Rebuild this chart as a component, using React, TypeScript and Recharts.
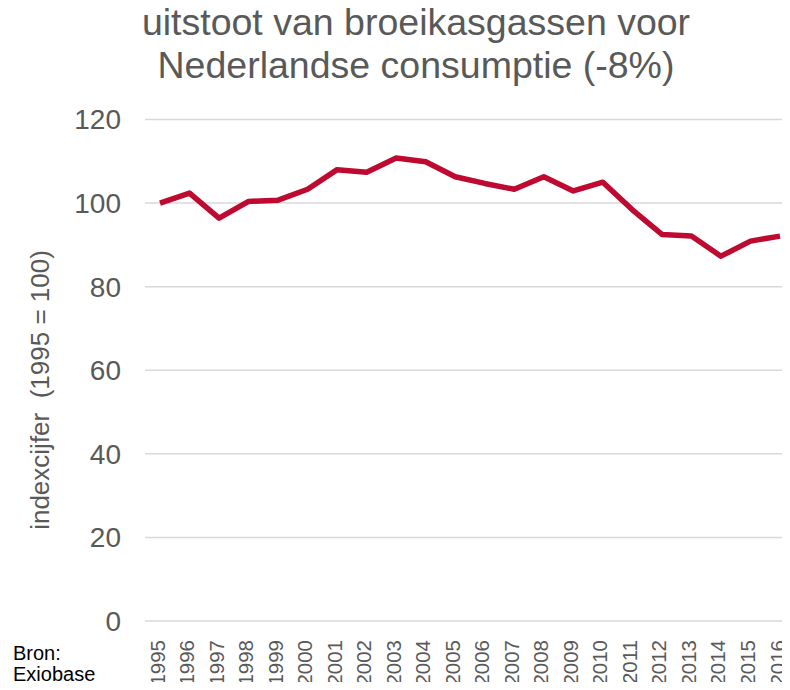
import React from "react";
import { LineChart, Line, XAxis, YAxis, CartesianGrid } from "recharts";

const years = ["1995","1996","1997","1998","1999","2000","2001","2002","2003","2004","2005","2006","2007","2008","2009","2010","2011","2012","2013","2014","2015","2016"];
const indexValues = [100, 102.4, 96.4, 100.4, 100.7, 103.3, 108.0, 107.4, 110.8, 109.9, 106.3, 104.7, 103.3, 106.3, 102.9, 105.0, 98.4, 92.5, 92.1, 87.3, 90.9, 92.1];
const yTicks = [0, 20, 40, 60, 80, 100, 120];
const titleLines = ["uitstoot van broeikasgassen voor", "Nederlandse consumptie (-8%)"];
const yLabel = "indexcijfer  (1995 = 100)";
const sourceLines = ["Bron:", "Exiobase"];

const data = years.map((y, i) => ({ year: y, value: indexValues[i] }));

const FONT = "'Liberation Sans', Arial, sans-serif";
const GRAY = "#595959";

const XTick = (props: any) => {
  const { x, payload } = props;
  return (
    <text
      x={0}
      y={0}
      transform={`translate(${x - 3}, 640) rotate(-90)`}
      textAnchor="end"
      dominantBaseline="central"
      fontFamily={FONT}
      fontSize={20.5}
      fill={GRAY}
    >
      {payload.value}
    </text>
  );
};

const YLabel = (props: any) => {
  return (
    <text
      x={0}
      y={0}
      transform={`translate(40, 390) rotate(-90)`}
      textAnchor="middle"
      dominantBaseline="central"
      fontFamily={FONT}
      fontSize={26}
      fill={GRAY}
      style={{ whiteSpace: "pre" }}
    >
      {yLabel}
    </text>
  );
};

export default function App() {
  return (
    <div style={{ position: "relative", margin: "-8px", width: 790, height: 690, overflow: "hidden", background: "#fff" }}>
      <div style={{ position: "absolute", left: 0, top: 1, width: 832, textAlign: "center", fontFamily: FONT, fontSize: 37.5, lineHeight: "43px", color: GRAY }}>
        {titleLines.map((t) => (
          <div key={t}>{t}</div>
        ))}
      </div>
      <div style={{ position: "absolute", left: 13, top: 643, fontFamily: FONT, fontSize: 20, lineHeight: "21px", color: "#000" }}>
        {sourceLines.map((t) => (
          <div key={t}>{t}</div>
        ))}
      </div>
      <div style={{ position: "absolute", left: 0, top: 0 }}>
        <LineChart width={795} height={690} data={data} margin={{ top: 119.5, right: 0, bottom: 0, left: 0 }}>
          <CartesianGrid vertical={false} stroke="#D9D9D9" strokeWidth={1.5} />
          <XAxis
            dataKey="year"
            axisLine={false}
            tickLine={false}
            tick={<XTick />}
            interval={0}
            height={69}
            padding={{ left: 15, right: 15 }}
          />
          <YAxis
            domain={[0, 120]}
            ticks={yTicks}
            axisLine={false}
            tickLine={false}
            tickSize={0}
            tickMargin={24}
            width={145}
            tick={{ fontFamily: FONT, fontSize: 28, fill: GRAY }}
            label={<YLabel />}
          />
          <Line
            type="linear"
            dataKey="value"
            stroke="#BE0A31"
            strokeWidth={5.5}
            dot={false}
            isAnimationActive={false}
            strokeLinejoin="round"
          />
        </LineChart>
      </div>
    </div>
  );
}
